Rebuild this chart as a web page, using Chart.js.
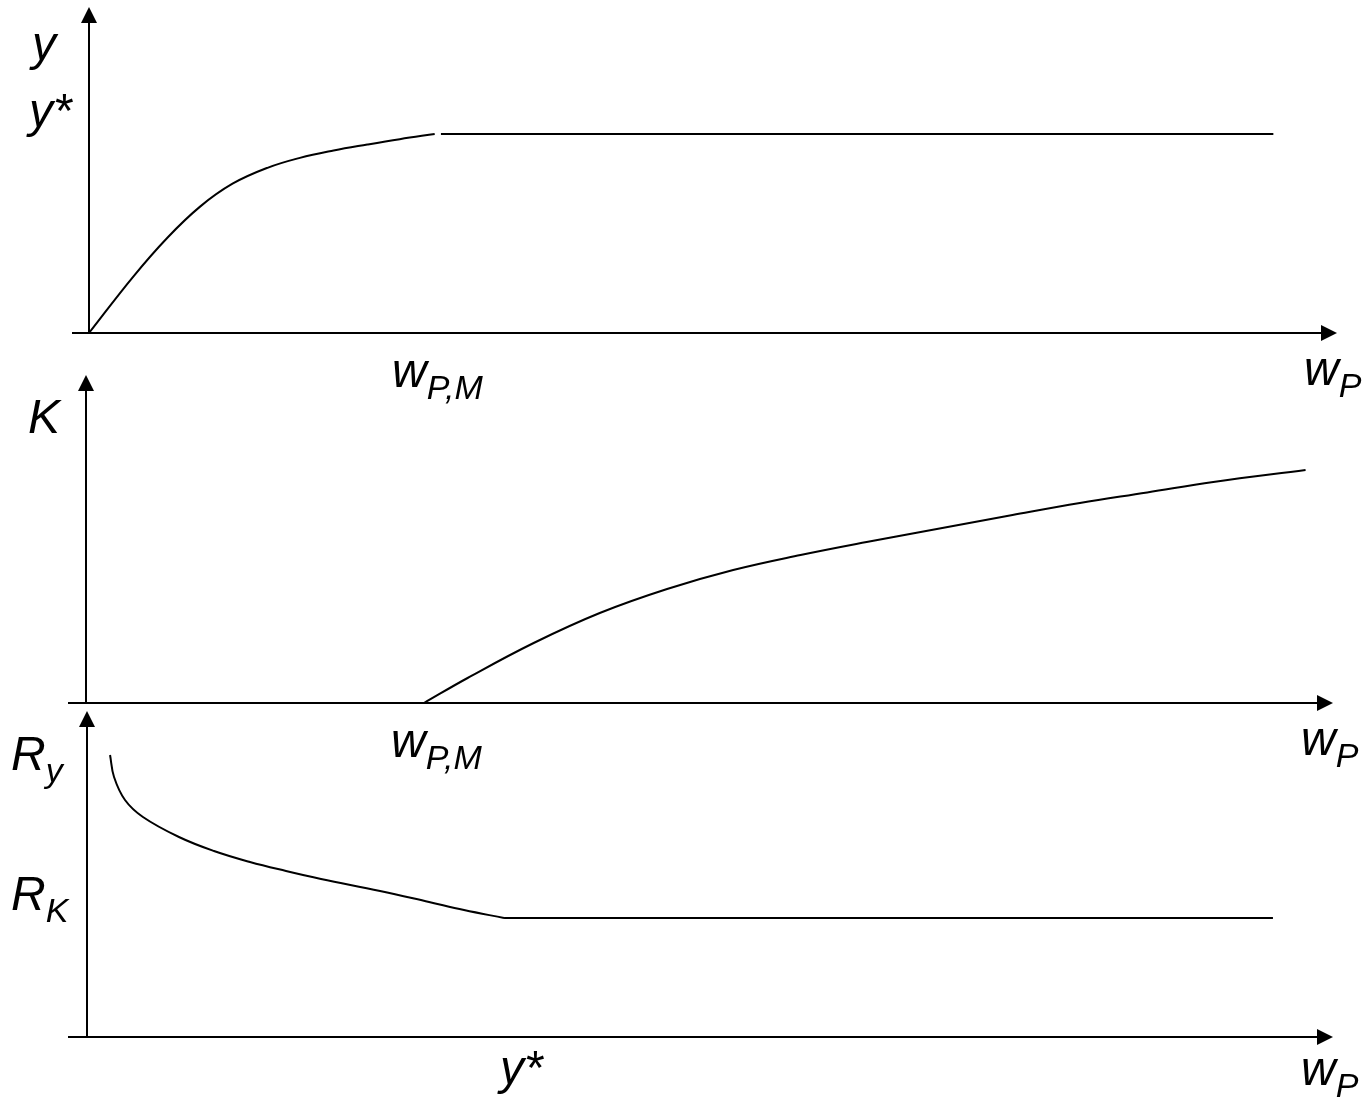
<!DOCTYPE html>
<html lang="en">
<head>
    <meta charset="UTF-8">
    <title>y, K and R against w_P</title>
    <script src="https://cdn.jsdelivr.net/npm/chart.js"></script>
    <style>
        body { margin: 0; background: #fff; }
        #wrap { position: relative; width: 1367px; height: 1099px; }
        #wrap canvas { position: absolute; left: 0; top: 0; }
    </style>
</head>
<body>
<div id="wrap">
    <canvas id="panelY" width="1367" height="1099"></canvas>
    <canvas id="panelK" width="1367" height="1099"></canvas>
    <canvas id="panelR" width="1367" height="1099"></canvas>
</div>
<script>
    // w_P runs 0..100 on every panel
    // top panel: output y, rising to y* (=1) at w_P,M then flat
    const wRise = [0, 3.5, 6.3, 8.9, 11.5, 14.3, 16.9, 19.6, 22.3, 24.9, 27.7];
    const yRise = [0, 0.28, 0.48, 0.635, 0.75, 0.83, 0.88, 0.917, 0.947, 0.974, 1.0];
    const wFlatY = [28.2, 94.9];
    const yFlat = [1, 1];

    // middle panel: K, zero up to w_P,M then increasing
    const wK = [27.1, 30.6, 35.9, 41.2, 46.6, 51.9, 57.3, 62.6, 69.1, 74.3, 79.7, 85.1, 90.4, 97.8];
    const kVals = [0, 0.25, 0.60, 0.90, 1.14, 1.33, 1.48, 1.61, 1.76, 1.88, 2.0, 2.105, 2.21, 2.33];

    // bottom panel: R falling from R_y to R_K, then flat at R_K
    const wR = [1.85, 2.17, 3.05, 4.49, 7.38, 10.19, 13.08, 15.97, 18.78, 23.52, 27.45, 30.26, 33.47];
    const rVals = [2.82, 2.60, 2.37, 2.20, 2.00, 1.86, 1.75, 1.66, 1.58, 1.46, 1.35, 1.27, 1.19];
    const wFlatR = [33.47, 95.18];
    const rFlat = [1.19, 1.19];

    const FONT = '"Liberation Sans", Arial, sans-serif';

    const toPoints = (xs, ys) => xs.map((x, i) => ({ x: x, y: ys[i] }));

    // axes with arrow heads plus the italic labels (main text + subscript)
    const arrowAxes = {
        id: 'arrowAxes',
        beforeDatasetsDraw(chart, args, opts) {
            const { ctx, chartArea: a } = chart;
            const head = 16;
            ctx.save();
            ctx.strokeStyle = '#000';
            ctx.fillStyle = '#000';
            ctx.lineWidth = 2;
            ctx.beginPath();
            ctx.moveTo(a.left - opts.overhang, a.bottom);
            ctx.lineTo(a.right - head + 1, a.bottom);
            ctx.moveTo(a.left, a.bottom);
            ctx.lineTo(a.left, a.top + head - 1);
            ctx.stroke();
            // x arrow
            ctx.beginPath();
            ctx.moveTo(a.right, a.bottom);
            ctx.lineTo(a.right - head, a.bottom - head / 2);
            ctx.lineTo(a.right - head, a.bottom + head / 2);
            ctx.closePath();
            ctx.fill();
            // y arrow
            ctx.beginPath();
            ctx.moveTo(a.left, a.top);
            ctx.lineTo(a.left - head / 2, a.top + head);
            ctx.lineTo(a.left + head / 2, a.top + head);
            ctx.closePath();
            ctx.fill();
            ctx.restore();
        },
        afterDraw(chart, args, opts) {
            const ctx = chart.ctx;
            ctx.save();
            ctx.fillStyle = '#000';
            ctx.textBaseline = 'alphabetic';
            ctx.textAlign = 'left';
            opts.labels.forEach(l => {
                ctx.font = 'italic 48px ' + FONT;
                ctx.fillText(l.main, l.x, l.y);
                if (l.sub) {
                    const w = ctx.measureText(l.main).width;
                    ctx.font = 'italic 34px ' + FONT;
                    ctx.fillText(l.sub, l.x + w, l.y + 12);
                }
            });
            ctx.restore();
        }
    };

    function makePanel(id, datasets, yMax, pad, overhang, labels) {
        new Chart(document.getElementById(id), {
            type: 'scatter',
            data: { datasets: datasets },
            options: {
                responsive: false,
                animation: false,
                events: [],
                layout: { padding: pad },
                scales: {
                    x: { type: 'linear', min: 0, max: 100, display: false },
                    y: { type: 'linear', min: 0, max: yMax, display: false }
                },
                plugins: {
                    legend: { display: false },
                    tooltip: { enabled: false },
                    arrowAxes: { overhang: overhang, labels: labels }
                }
            },
            plugins: [arrowAxes]
        });
    }

    const curve = (pts, smooth) => ({
        data: pts,
        showLine: true,
        borderColor: '#000',
        borderWidth: 2,
        pointRadius: 0,
        tension: smooth ? 0.4 : 0,
        clip: false
    });

    makePanel('panelY',
        [curve(toPoints(wRise, yRise), true), curve(toPoints(wFlatY, yFlat), false)],
        1.638, { left: 89, top: 7, right: 1367 - 1337, bottom: 1099 - 333 }, 17,
        [
            { main: 'y', x: 32, y: 60 },
            { main: 'y*', x: 29, y: 127 },
            { main: 'w', sub: 'P,M', x: 392, y: 387 },
            { main: 'w', sub: 'P', x: 1304, y: 385 }
        ]);

    makePanel('panelK',
        [curve(toPoints(wK, kVals), true)],
        3.28, { left: 86, top: 375, right: 1367 - 1333, bottom: 1099 - 703 }, 18,
        [
            { main: 'K', x: 28, y: 433 },
            { main: 'w', sub: 'P,M', x: 391, y: 757 },
            { main: 'w', sub: 'P', x: 1301, y: 755 }
        ]);

    makePanel('panelR',
        [curve(toPoints(wR, rVals), true), curve(toPoints(wFlatR, rFlat), false)],
        3.26, { left: 87, top: 711, right: 1367 - 1333, bottom: 1099 - 1037 }, 19,
        [
            { main: 'R', sub: 'y', x: 11, y: 770 },
            { main: 'R', sub: 'K', x: 11, y: 910 },
            { main: 'y*', x: 500, y: 1084 },
            { main: 'w', sub: 'P', x: 1301, y: 1085 }
        ]);
</script>
</body>
</html>
